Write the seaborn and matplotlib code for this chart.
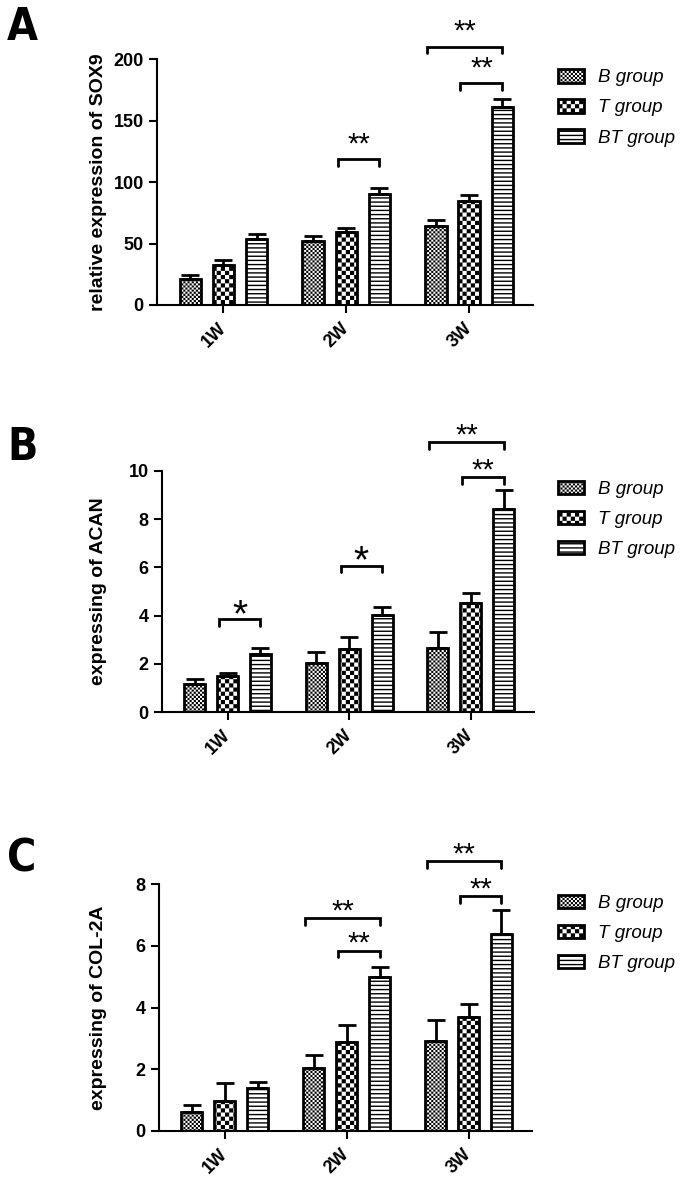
import matplotlib
matplotlib.use("Agg")
import matplotlib.pyplot as plt
import matplotlib.hatch as mhatch
import matplotlib.patches as mpatches
from matplotlib.path import Path
import numpy as np
import pandas as pd
import seaborn as sns

weeks = ["1W", "2W", "3W"]
groups = ["B group", "T group", "BT group"]

# mean / error per week, columns in group order B, T, BT
sox9_mean = [[21, 32.5, 54], [52, 59.5, 90], [64.5, 85, 161.5]]
sox9_err = [[3.5, 4, 4], [4, 3.5, 5], [5, 4.5, 6]]
acan_mean = [[1.17, 1.52, 2.4], [2.06, 2.61, 4.01], [2.65, 4.51, 8.41]]
acan_err = [[0.2, 0.09, 0.25], [0.42, 0.52, 0.33], [0.66, 0.41, 0.79]]
col2a_mean = [[0.63, 0.98, 1.38], [2.03, 2.9, 4.98], [2.93, 3.68, 6.39]]
col2a_err = [[0.21, 0.59, 0.22], [0.42, 0.53, 0.33], [0.67, 0.43, 0.78]]

# brackets: (week, left group, right group, height, label)
sox9_sig = [(1, 1, 2, 118.6, "**"), (2, 1, 2, 180.5, "**"), (2, 0, 2, 210.3, "**")]
acan_sig = [(0, 1, 2, 3.86, "*"), (1, 1, 2, 6.07, "*"),
            (2, 1, 2, 9.75, "**"), (2, 0, 2, 11.17, "**")]
col2a_sig = [(1, 0, 2, 6.9, "**"), (1, 1, 2, 5.85, "**"),
             (2, 0, 2, 8.76, "**"), (2, 1, 2, 7.62, "**")]

sns.set_style("ticks")
plt.rcParams["font.family"] = ["Liberation Sans", "DejaVu Sans"]
plt.rcParams["hatch.linewidth"] = 1.0
for key in ["text.color", "axes.labelcolor", "axes.edgecolor",
            "xtick.color", "ytick.color"]:
    plt.rcParams[key] = "black"


class CheckerHatch(mhatch.HatchPatternBase):
    # 'x' in a hatch string -> checkerboard, more x = smaller squares
    def __init__(self, hatch, density):
        n = hatch.count("x") * density
        self.num_cells = int(n + n % 2)
        self.num_vertices = (self.num_cells ** 2 // 2) * 5

    def set_vertices_and_codes(self, vertices, codes):
        n = self.num_cells
        step = 1.0 / n
        pad = plt.rcParams["hatch.linewidth"] / 144.0  # hatch is stroked too
        k = 0
        for i in range(n):
            for j in range(n):
                if (i + j) % 2:
                    continue
                x0, x1 = i * step + pad, (i + 1) * step - pad
                y0, y1 = j * step + pad, (j + 1) * step - pad
                vertices[k:k + 5] = [(x0, y0), (x1, y0), (x1, y1), (x0, y1), (x0, y0)]
                codes[k:k + 5] = [Path.MOVETO, Path.LINETO, Path.LINETO,
                                  Path.LINETO, Path.CLOSEPOLY]
                k += 5


mhatch._hatch_types = [mhatch.HorizontalHatch, CheckerHatch]
hatches = ["x" * 8, "x" * 4, "----"]


def draw_panel(ax, mean, err, sig, ylabel, ymax, ystep, label_x, star_off):
    df = pd.DataFrame({
        "week": np.repeat(weeks, len(groups)),
        "group": groups * len(weeks),
        "value": np.ravel(mean),
    })
    sns.barplot(data=df, x="week", y="value", hue="group", order=weeks,
                hue_order=groups, palette=["white"] * 3, saturation=1,
                width=0.81, gap=0.36, edgecolor="black", linewidth=2,
                errorbar=None, legend=False, ax=ax)

    err = np.asarray(err)
    centers = {}
    bar_sets = list(ax.containers)
    for g, bars in enumerate(bar_sets):
        xs, hs, es = [], [], []
        for b in bars:
            b.set_hatch(hatches[g])
            x = b.get_x() + b.get_width() / 2
            w = int(round(x))
            centers[(w, g)] = x
            xs.append(x)
            hs.append(b.get_height())
            es.append(err[w, g])
        ax.errorbar(xs, hs, yerr=[np.zeros(len(es)), es], fmt="none",
                    ecolor="black", elinewidth=2, capsize=6.5, capthick=2)

    ax.set_xlim(-0.54, 2.52)
    ax.set_ylim(0, ymax)
    ax.set_yticks(np.arange(0, ymax + ystep / 2, ystep))
    ax.set_xlabel("")
    ax.set_ylabel(ylabel, fontsize=14, fontweight="bold")
    ax.yaxis.set_label_coords(label_x, 0.5)
    sns.despine(ax=ax)
    for s in ["left", "bottom"]:
        ax.spines[s].set_linewidth(1.5)
    ax.tick_params(width=1.5, length=6, labelsize=13)
    ax.tick_params(axis="x", pad=9)
    for t in ax.get_yticklabels():
        t.set_fontweight("bold")
    for t in ax.get_xticklabels():
        t.set_fontweight("bold")
        t.set_rotation(45)
        t.set_ha("right")
        t.set_va("center")
        t.set_rotation_mode("anchor")

    drop = 0.028 * ymax
    for w, g1, g2, y, label in sig:
        x1 = centers[(w, g1)] - 0.07
        x2 = centers[(w, g2)]
        ax.plot([x1, x1, x2, x2], [y - drop, y, y, y - drop], color="black",
                lw=2, clip_on=False, solid_joinstyle="miter")
        size = 28 if label == "*" else 21
        off = star_off - (4 if label == "*" else 0)
        ax.annotate(label, xy=((x1 + x2) / 2, y), xytext=(0, off),
                    textcoords="offset points", ha="center", va="baseline",
                    fontsize=size, annotation_clip=False)


fig = plt.figure(figsize=(6.87, 11.83), dpi=100)

panels = [
    ("A", sox9_mean, sox9_err, sox9_sig, "relative expression of SOX9", 200, 50,
     [0.2285, 0.7422, 0.5473, 0.2077], -0.133, 5, 40, 69),
    ("B", acan_mean, acan_err, acan_sig, "expressing of ACAN", 10, 2,
     [0.2358, 0.3979, 0.5415, 0.2042], -0.148, -1, 460, 480.5),
    ("C", col2a_mean, col2a_err, col2a_sig, "expressing of COL-2A", 8, 2,
     [0.2314, 0.0440, 0.5429, 0.2085], -0.139, -1, 872, 894.5),
]

handles = [mpatches.Patch(facecolor="white", edgecolor="black", linewidth=2,
                          hatch=h) for h in hatches]

for letter, mean, err, sig, ylabel, ymax, ystep, rect, lx, star_off, letter_y, leg_y in panels:
    ax = fig.add_axes(rect)
    draw_panel(ax, mean, err, sig, ylabel, ymax, ystep, lx, star_off)
    fig.text(7 / 687, 1 - letter_y / 1183, letter, fontsize=32,
             fontweight="bold", family="DejaVu Sans", fontstretch="condensed",
             va="baseline", ha="left")
    fig.legend(handles, groups, loc="upper left",
               bbox_to_anchor=(558 / 687, 1 - leg_y / 1183),
               bbox_transform=fig.transFigure, frameon=False,
               prop={"style": "italic", "size": 13.5},
               handlelength=1.4, handleheight=0.76, labelspacing=0.67,
               handletextpad=0.75, borderpad=0, borderaxespad=0)

fig.savefig("out.png", dpi=100)
